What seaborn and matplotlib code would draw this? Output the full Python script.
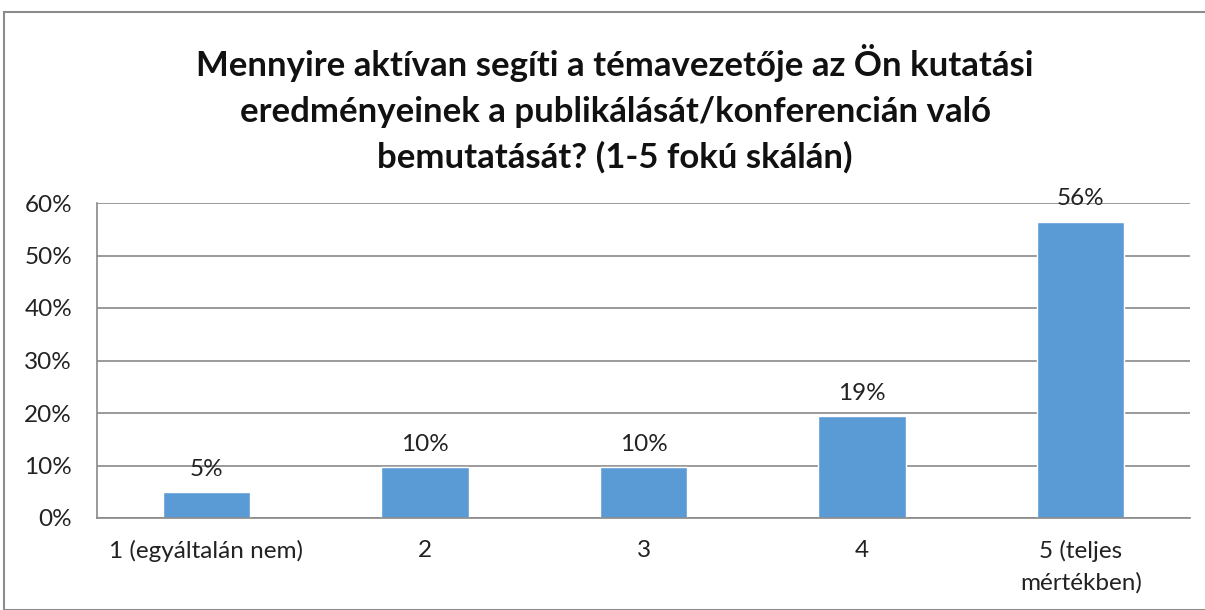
import matplotlib
matplotlib.use("Agg")
import matplotlib.pyplot as plt
import matplotlib.patches as mpatches
from matplotlib.ticker import PercentFormatter
import pandas as pd
import seaborn as sns

# --- data --------------------------------------------------------------------
categories = ["1 (egyáltalán nem)", "2", "3", "4", "5 (teljes\nmértékben)"]
shares = [4.9, 9.7, 9.7, 19.4, 56.4]   # percent of respondents
y_ticks = [0, 10, 20, 30, 40, 50, 60]

TITLE = ("Mennyire aktívan segíti a témavezetője az Ön kutatási\n"
         "eredményeinek a publikálását/konferencián való\n"
         "bemutatását? (1-5 fokú skálán)")
BAR_COLOR = "#5B9BD5"
GRID_COLOR = "#898989"

df = pd.DataFrame({"cat": categories, "share": shares})

sns.set_theme(style="white")
plt.rcParams["font.family"] = ["Lato", "DejaVu Sans"]

fig = plt.figure(figsize=(12.05, 6.10), dpi=100)
ax = fig.add_axes([97 / 1205, 92 / 610, 1093 / 1205, 315 / 610])

sns.barplot(data=df, x="cat", y="share", color=BAR_COLOR, saturation=1,
            width=0.4, ax=ax)

ax.bar_label(ax.containers[0], labels=[f"{v:.0f}%" for v in shares],
             padding=9, fontsize=17.5, color="#222222")

ax.set_ylim(0, 60)
ax.set_xlim(-0.5, len(categories) - 0.5)
ax.set_yticks(y_ticks)
ax.yaxis.set_major_formatter(PercentFormatter(decimals=0))
ax.set_xlabel("")
ax.set_ylabel("")
ax.tick_params(axis="both", length=0, labelsize=17.5, colors="#222222")
ax.tick_params(axis="y", pad=18)
ax.tick_params(axis="x", pad=16)
for lbl in ax.get_xticklabels():
    lbl.set_linespacing(1.55)
ax.grid(axis="y", color=GRID_COLOR, linewidth=1.2)
ax.set_axisbelow(True)
for side in ["top", "right"]:
    ax.spines[side].set_visible(False)
for side in ["left", "bottom"]:
    ax.spines[side].set_color(GRID_COLOR)
    ax.spines[side].set_linewidth(1.2)

fig.text(615 / 1205, 1 - 109 / 610, TITLE, ha="center", va="center",
         fontsize=25, fontweight="bold", linespacing=1.52, color="#111111")

# outer chart border
fig.patches.append(mpatches.Rectangle((4 / 1205, 0), 1.2, 1 - 12 / 610,
                                      transform=fig.transFigure, fill=False,
                                      edgecolor="#8c8c8c", linewidth=1.5))

fig.savefig("out.png", dpi=100)
